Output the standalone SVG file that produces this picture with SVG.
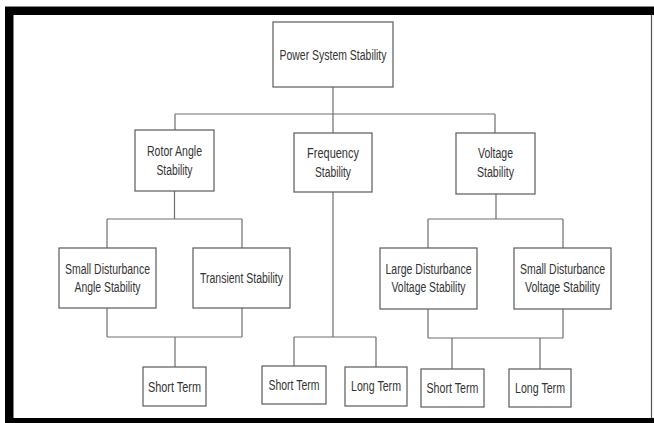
<svg xmlns="http://www.w3.org/2000/svg" width="654" height="423" viewBox="0 0 654 423">
<style>
.box{fill:#fff;stroke:#5a5a5a;stroke-width:1.2}
.ln{fill:none;stroke:#6e6e6e;stroke-width:1.2}
text{font-family:"Liberation Sans",Arial,sans-serif;font-size:14px;fill:#333;text-anchor:middle}
</style>
<rect x="0" y="0" width="654" height="423" fill="#fff"/>
<g id="frame">
<line x1="5" y1="6.5" x2="654" y2="6.5" stroke="#888" stroke-width="1"/>
<rect x="5" y="7" width="649" height="8" fill="#000"/>
<rect x="5" y="7" width="8.5" height="416" fill="#000"/>
<rect x="5" y="418" width="649" height="5" fill="#000"/>
<line x1="651.5" y1="15" x2="651.5" y2="418" stroke="#555" stroke-width="1.2"/>
</g>
<g id="connectors">
<path class="ln" d="M333,87V114M175,114H495M175,114V130M333,114V133M495,114V133"/>
<path class="ln" d="M174.5,191V219M107,219H242M107,219V248M242,219V248"/>
<path class="ln" d="M107,308V337M242,308V337M107,337H242M175,337V367"/>
<path class="ln" d="M333,192V337M294,337H376M294,337V366M376,337V367"/>
<path class="ln" d="M496,194V219M428,219H563M428,219V248M563,219V248"/>
<path class="ln" d="M428,309V338M563,309V338M428,338H563M452,338V369M540,338V369"/>
</g>
<g id="power"><rect class="box" x="273" y="22" width="120" height="65"/><text x="333" y="60" textLength="107" lengthAdjust="spacingAndGlyphs">Power System Stability</text></g>
<g id="rotor"><rect class="box" x="135" y="130" width="79" height="61"/><text x="174.5" y="156" textLength="55" lengthAdjust="spacingAndGlyphs">Rotor Angle</text><text x="174.5" y="175" textLength="36" lengthAdjust="spacingAndGlyphs">Stability</text></g>
<g id="frequency"><rect class="box" x="294" y="133" width="78" height="59"/><text x="333" y="158" textLength="52" lengthAdjust="spacingAndGlyphs">Frequency</text><text x="333" y="177" textLength="36" lengthAdjust="spacingAndGlyphs">Stability</text></g>
<g id="voltage"><rect class="box" x="456" y="133" width="79" height="61"/><text x="495.5" y="158" textLength="35" lengthAdjust="spacingAndGlyphs">Voltage</text><text x="495.5" y="177" textLength="37" lengthAdjust="spacingAndGlyphs">Stability</text></g>
<g id="small-angle"><rect class="box" x="59" y="248" width="97" height="60"/><text x="107.5" y="274" textLength="85" lengthAdjust="spacingAndGlyphs">Small Disturbance</text><text x="107.5" y="292" textLength="66" lengthAdjust="spacingAndGlyphs">Angle Stability</text></g>
<g id="transient"><rect class="box" x="193" y="248" width="97" height="60"/><text x="241.5" y="283" textLength="83" lengthAdjust="spacingAndGlyphs">Transient Stability</text></g>
<g id="large-voltage"><rect class="box" x="380" y="248" width="97" height="61"/><text x="428.5" y="274" textLength="86" lengthAdjust="spacingAndGlyphs">Large Disturbance</text><text x="428.5" y="292" textLength="74" lengthAdjust="spacingAndGlyphs">Voltage Stability</text></g>
<g id="small-voltage"><rect class="box" x="514" y="248" width="97" height="61"/><text x="562.5" y="274" textLength="85" lengthAdjust="spacingAndGlyphs">Small Disturbance</text><text x="562.5" y="292" textLength="75" lengthAdjust="spacingAndGlyphs">Voltage Stability</text></g>
<g id="short-angle"><rect class="box" x="143" y="367" width="63" height="39"/><text x="174.5" y="392" textLength="53" lengthAdjust="spacingAndGlyphs">Short Term</text></g>
<g id="short-freq"><rect class="box" x="262" y="366" width="64" height="38"/><text x="294" y="390" textLength="51" lengthAdjust="spacingAndGlyphs">Short Term</text></g>
<g id="long-freq"><rect class="box" x="345" y="367" width="62" height="39"/><text x="376" y="391" textLength="50" lengthAdjust="spacingAndGlyphs">Long Term</text></g>
<g id="short-voltage"><rect class="box" x="421" y="369" width="63" height="38"/><text x="452.5" y="393" textLength="52" lengthAdjust="spacingAndGlyphs">Short Term</text></g>
<g id="long-voltage"><rect class="box" x="509" y="369" width="62" height="38"/><text x="540" y="393" textLength="50" lengthAdjust="spacingAndGlyphs">Long Term</text></g>
</svg>
